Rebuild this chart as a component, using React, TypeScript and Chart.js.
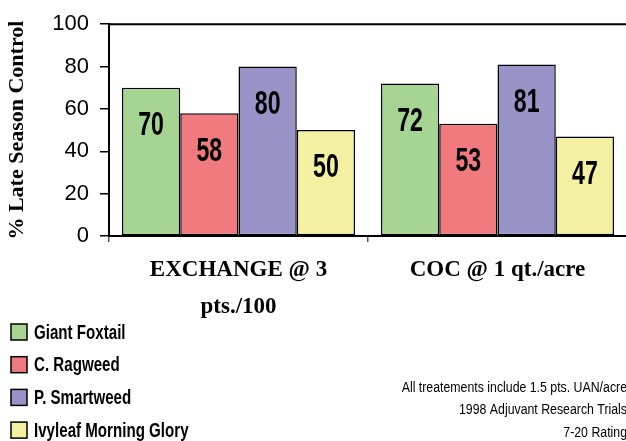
import React, { useEffect, useRef } from "react";
import { Chart, registerables } from "chart.js";

Chart.register(...registerables);

const categories: (string | string[])[] = [["EXCHANGE @ 3", "pts./100"], "COC @ 1 qt./acre"];
const seriesNames = ["Giant Foxtail", "C. Ragweed", "P. Smartweed", "Ivyleaf Morning Glory"];
const giantFoxtail = [70, 72];
const cRagweed = [58, 53];
const pSmartweed = [80, 81];
const ivyleafMorningGlory = [50, 47];
const seriesColors = ["#a6d493", "#f07a7d", "#9894c8", "#f3f0a1"];
const footnotes = [
  "All treatements include 1.5 pts. UAN/acre",
  "1998 Adjuvant Research Trials",
  "7-20 Rating",
];
const yAxisTitle = "% Late Season Control";

const SANS = "'Liberation Sans', Arial, sans-serif";
const SERIF = "'Liberation Serif', 'DejaVu Serif', serif";

function narrowText(ctx: CanvasRenderingContext2D, text: string, x: number, y: number, sx: number) {
  ctx.save();
  ctx.translate(x, y);
  ctx.scale(sx, 1);
  ctx.fillText(text, 0, 0);
  ctx.restore();
}

const extrasPlugin = {
  id: "extras",
  afterDatasetsDraw(chart: any) {
    const ctx = chart.ctx as CanvasRenderingContext2D;
    const area = chart.chartArea;
    ctx.save();
    ctx.strokeStyle = "#000";
    ctx.lineWidth = 2;
    ctx.beginPath();
    ctx.moveTo(area.left, area.top);
    ctx.lineTo(area.right + 5, area.top);
    ctx.stroke();
    ctx.fillStyle = "#000";
    ctx.textAlign = "center";
    ctx.textBaseline = "middle";
    ctx.font = `bold 34px ${SANS}`;
    chart.data.datasets.forEach((ds: any, di: number) => {
      const meta = chart.getDatasetMeta(di);
      meta.data.forEach((el: any, i: number) => {
        narrowText(ctx, String(ds.data[i]), el.x, el.y + 38, 0.68);
      });
    });
    ctx.restore();
  },
  afterDraw(chart: any) {
    const ctx = chart.ctx as CanvasRenderingContext2D;
    ctx.save();
    chart.data.datasets.forEach((ds: any, i: number) => {
      const cy = 332 + i * 32.7;
      ctx.fillStyle = ds.backgroundColor;
      ctx.fillRect(11, cy - 8, 16, 16);
      ctx.strokeStyle = "#000";
      ctx.lineWidth = 1.5;
      ctx.strokeRect(11, cy - 8, 16, 16);
      ctx.fillStyle = "#000";
      ctx.font = `bold 21px ${SANS}`;
      ctx.textAlign = "left";
      ctx.textBaseline = "middle";
      narrowText(ctx, ds.label, 34, cy + 1, 0.72);
    });
    ctx.font = `14px ${SANS}`;
    ctx.textAlign = "right";
    ctx.textBaseline = "middle";
    ctx.fillStyle = "#000";
    footnotes.forEach((t, i) => {
      narrowText(ctx, t, 627, 388 + i * 22.5, 0.88);
    });
    ctx.restore();
  },
};

export default function App() {
  const ref = useRef<HTMLCanvasElement | null>(null);
  useEffect(() => {
    if (!ref.current) return;
    const seriesData = [giantFoxtail, cRagweed, pSmartweed, ivyleafMorningGlory];
    const chart = new Chart(ref.current, {
      type: "bar",
      data: {
        labels: categories,
        datasets: seriesData.map((d, i) => ({
          label: seriesNames[i],
          data: d,
          backgroundColor: seriesColors[i],
          borderColor: "#000",
          borderWidth: 1.5,
          borderSkipped: false,
          categoryPercentage: 0.9,
          barPercentage: 1.0,
        })),
      },
      options: {
        animation: false,
        responsive: false,
        maintainAspectRatio: false,
        devicePixelRatio: 1,
        layout: { padding: { top: 23, left: 0, right: 0, bottom: 0 } },
        plugins: {
          legend: { display: false },
          tooltip: { enabled: false },
          title: { display: false },
        },
        scales: {
          x: {
            offset: true,
            grid: {
              display: true,
              offset: true,
              drawOnChartArea: false,
              drawTicks: true,
              tickLength: 6,
              color: "#555",
              lineWidth: 1.5,
            },
            border: { display: true, color: "#000", width: 2 },
            ticks: {
              color: "#000",
              padding: 10,
              maxRotation: 0,
              autoSkip: false,
              font: { family: SERIF, size: 23, weight: "bold", lineHeight: 37 / 23 },
            },
            afterFit(scale: any) {
              scale.height = 205;
            },
          },
          y: {
            min: 0,
            max: 100,
            ticks: {
              stepSize: 20,
              color: "#000",
              padding: 11,
              font: { family: SANS, size: 22 },
            },
            grid: {
              display: true,
              drawOnChartArea: false,
              drawTicks: true,
              tickLength: 9,
              color: "#000",
              lineWidth: 1.5,
            },
            border: { display: true, color: "#000", width: 2 },
            title: {
              display: true,
              text: yAxisTitle,
              color: "#000",
              padding: { top: 4, bottom: 0 },
              font: { family: SERIF, size: 22, weight: "bold" },
            },
            afterFit(scale: any) {
              scale.width = 109;
            },
          },
        },
      },
      plugins: [extrasPlugin],
    });
    return () => chart.destroy();
  }, []);
  return (
    <div style={{ position: "absolute", left: 0, top: 0, width: 626, height: 441, overflow: "hidden", background: "#fff" }}>
      <canvas ref={ref} width={627} height={441} style={{ display: "block", width: 627, height: 441 }} />
    </div>
  );
}
